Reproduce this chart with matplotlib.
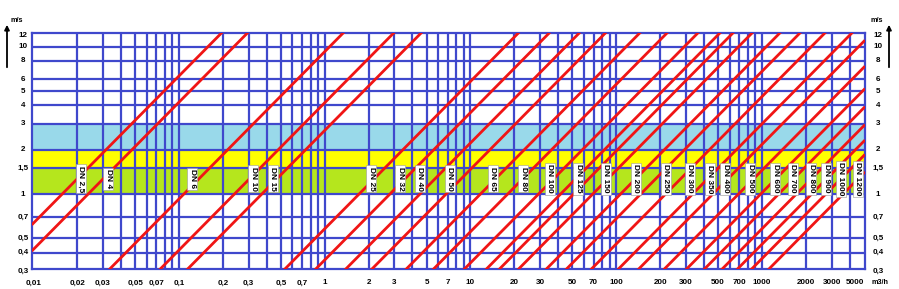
import matplotlib.pyplot as plt
import matplotlib.transforms as mtransforms
import numpy as np

# flow at v = 1 m/s for each pipe line (m3/h)
dn_names = ['DN 2,5', 'DN 4', 'DN 6', 'DN 10', 'DN 15', 'DN 25', 'DN 32', 'DN 40',
            'DN 50', 'DN 65', 'DN 80', 'DN 100', 'DN 125', 'DN 150', 'DN 200',
            'DN 250', 'DN 300', 'DN 350', 'DN 400', 'DN 500', 'DN 600', 'DN 700',
            'DN 800', 'DN 900', 'DN 1000', 'DN 1200']
dn_q1 = [0.0158, 0.0238, 0.108, 0.240, 0.37, 1.72, 2.8, 4.5,
         6.8, 11.7, 18.0, 29.3, 41.5, 69.0, 107.0,
         147.0, 218.0, 334.0, 460.0, 690.0, 980.0, 1300.0,
         1720.0, 2190.0, 2740.0, 3600.0]
# one more red line on the chart without its own label
extra_q1 = [51.0]
# flow where each label box sits (m3/h)
dn_label_q = [0.0212, 0.0326, 0.123, 0.324, 0.441, 2.08, 3.30, 4.50,
              7.21, 14.2, 23.1, 35.1, 54.9, 84.5, 136.0,
              218.0, 319.0, 438.0, 561.0, 832.0, 1233.0, 1630.0,
              2176.0, 2755.0, 3473.0, 4540.0]
LABEL_V = 1.27

x_ticks = [0.01, 0.02, 0.03, 0.05, 0.07, 0.1, 0.2, 0.3, 0.5, 0.7, 1, 2, 3, 5, 7,
           10, 20, 30, 50, 70, 100, 200, 300, 500, 700, 1000, 2000, 3000, 5000]
x_tick_labels = ['0,01', '0,02', '0,03', '0,05', '0,07', '0,1', '0,2', '0,3', '0,5',
                 '0,7', '1', '2', '3', '5', '7', '10', '20', '30', '50', '70', '100',
                 '200', '300', '500', '700', '1000', '2000', '3000', '5000']
y_ticks = [0.3, 0.4, 0.5, 0.7, 1, 1.5, 2, 3, 4, 5, 6, 8, 10, 12]
y_tick_labels = ['0,3', '0,4', '0,5', '0,7', '1', '1,5', '2', '3', '4', '5', '6',
                 '8', '10', '12']

# colour bands (m/s)
bands = [(1.0, 1.5, '#b5e61d'), (1.5, 2.0, '#ffff00'), (2.0, 3.0, '#99d9ea')]

# the drawn frame sits a little outside 0.01..5000 and 0.3..12
Q_MIN, Q_MAX = 0.00976, 5090
V_MIN, V_MAX = 0.3115, 12.33
W, H = 899, 289

GRID = '#3f48cc'
RED = '#f01515'
FS = 5.8

plt.rcParams['font.family'] = ['Liberation Sans', 'DejaVu Sans']

fig = plt.figure(figsize=(W / 100, H / 100), dpi=100)
ax = fig.add_axes([31.7 / W, 1 - 268.7 / H, (865 - 31.7) / W, (268.7 - 33.3) / H])
ax.set_xscale('log')
ax.set_yscale('log')
ax.set_xlim(Q_MIN, Q_MAX)
ax.set_ylim(V_MIN, V_MAX)

for lo, hi, c in bands:
    ax.axhspan(lo, hi, color=c, lw=0, zorder=0)

# grid: every 1..9 step in each decade on x, chosen values on y
grid_x = [m * 10.0 ** k for k in range(-2, 4) for m in range(1, 10)]
grid_x = [g for g in grid_x if x_ticks[0] < g < x_ticks[-1]]
for g in grid_x:
    ax.axvline(g, color=GRID, lw=1.6, zorder=1)
for g in y_ticks[1:-1]:
    ax.axhline(g, color=GRID, lw=1.6, zorder=1)
for s in ax.spines.values():
    s.set_color(GRID)
    s.set_linewidth(1.6)
    s.set_zorder(1)

q = np.array([Q_MIN, Q_MAX])
for q1 in dn_q1 + extra_q1:
    ax.plot(q, q / q1, color=RED, lw=2.0, zorder=2, solid_capstyle='butt')

for name, lq in zip(dn_names, dn_label_q):
    ax.text(lq, LABEL_V, name, rotation=270, ha='center', va='center',
            fontsize=6.0, fontweight='bold', zorder=3,
            bbox=dict(boxstyle='square,pad=0.18', fc='white', ec='#999999', lw=0.4))

ax.set_xticks([])
ax.set_yticks([])
ax.minorticks_off()

# tick labels as plain text
tx = mtransforms.blended_transform_factory(ax.transData, fig.transFigure)
for v, lab in zip(x_ticks, x_tick_labels):
    ha = 'right' if v == x_ticks[-1] else 'center'
    ax.text(v, 1 - 283 / H, lab, transform=tx, ha=ha, va='center',
            fontsize=FS, fontweight='bold', clip_on=False)
ty = mtransforms.blended_transform_factory(fig.transFigure, ax.transData)
for v, lab in zip(y_ticks, y_tick_labels):
    ax.text(23 / W, v, lab, transform=ty, ha='center', va='center',
            fontsize=FS, fontweight='bold', clip_on=False)
    ax.text(878 / W, v, lab, transform=ty, ha='center', va='center',
            fontsize=FS, fontweight='bold', clip_on=False)

fig.text(872 / W, 1 - 283 / H, 'm3/h', fontsize=5.2, fontweight='bold', va='center')
fig.text(17 / W, 1 - 21 / H, 'm/s', fontsize=5.2, fontweight='bold', ha='center', va='center')
fig.text(877 / W, 1 - 21 / H, 'm/s', fontsize=5.2, fontweight='bold', ha='center', va='center')
for xa in (7, 889):
    ax.annotate('', xy=(xa / W, 1 - 22 / H), xytext=(xa / W, 1 - 70 / H),
                xycoords='figure fraction', textcoords='figure fraction',
                arrowprops=dict(arrowstyle='-|>', color='black', lw=1.3, mutation_scale=7))

fig.savefig('out.png', dpi=100)
